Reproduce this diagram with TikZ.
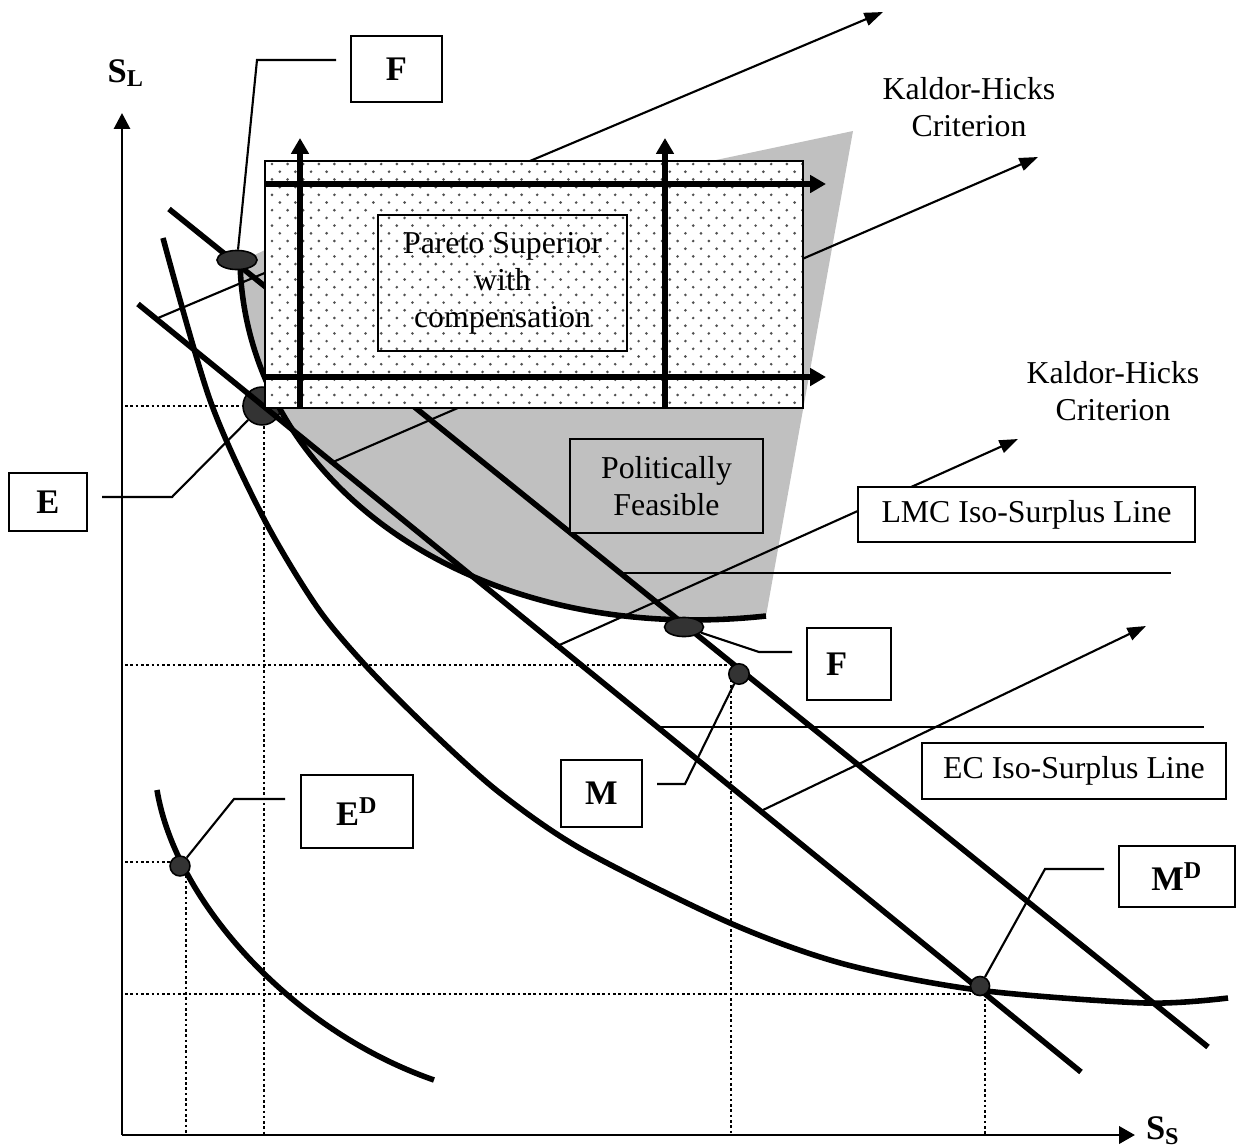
\documentclass[tikz,border=0pt]{standalone}
\usepackage{fontspec}
\setmainfont{Liberation Serif}
\usetikzlibrary{arrows.meta,shapes.geometric}
\definecolor{feasgray}{HTML}{C0C0C0}
\definecolor{ptgray}{HTML}{333333}
\definecolor{dotgray}{HTML}{505050}
\tikzset{
  heavy/.style={line width=2.1pt},
  slim/.style={line width=0.8pt},
  guide/.style={line width=0.7pt, dash pattern=on 1pt off 1pt},
  thintip/.style={-{Triangle[length=7pt,width=5pt]}},
  fattip/.style={-{Triangle[length=6pt,width=6.5pt]}},
  tbox/.style={draw, line width=0.8pt, fill=white, inner sep=0pt, align=center,
    font=\fontsize{12}{14}\selectfont},
  lbox/.style={draw, line width=0.8pt, fill=white, inner sep=0pt,
    font=\fontsize{13}{15}\selectfont\bfseries},
  pnt/.style={draw, line width=0.6pt, fill=ptgray, inner sep=0pt},
}
\begin{document}
\begin{tikzpicture}[x=0.377pt,y=-0.377pt]
\useasboundingbox (0,0) rectangle (1237,1146);

% politically feasible region
\fill[feasgray] (240,262) -- (265,250) -- (716,160) -- (853,131) -- (766,616)
  .. controls (470,648) and (245,480) .. (240,262);

% guide lines to the axes
\draw[guide] (125,406) -- (264,406) -- (264,1135);
\draw[guide] (125,665) -- (731,665) -- (731,1135);
\draw[guide] (125,862) -- (186,862) -- (186,1135);
\draw[guide] (125,994) -- (985,994) -- (985,1135);

% Kaldor-Hicks arrows
\coordinate (k1s) at (158,318);  \coordinate (k1e) at (883,12);
\coordinate (k2s) at (333,462);  \coordinate (k2e) at (1038,157);
\coordinate (k3s) at (555,647);  \coordinate (k3e) at (1018,439);
\coordinate (k4s) at (763,810);  \coordinate (k4e) at (1146,626);
\draw[slim, thintip] (k1s) -- (k1e);
\draw[slim, thintip] (k2s) -- (k2e);
\draw[slim, thintip] (k3s) -- (k3e);
\draw[slim, thintip] (k4s) -- (k4e);

\node[pnt, circle, minimum size=14.3pt] (ptE) at (262,406) {};

% iso-surplus lines and curves
\draw[heavy] (169,209) -- (1208,1047);
\draw[heavy] (138,304) -- (1081,1072);
\draw[heavy] (240,262) .. controls (245,480) and (470,648) .. (766,616);
\draw[heavy] plot[smooth] coordinates {(163,238) (210,400) (263,517) (317,607)
  (367,667) (433,733) (500,793) (583,850) (730,923) (844,964) (978,990)
  (1145,1003) (1228,998)};
\draw[heavy] (157,790) .. controls (175,900) and (290,1030) .. (434,1080);

% Pareto superior area
\fill[white] (265,161) rectangle (803,408);
\begin{scope}
\clip (265,161) rectangle (803,408);
\foreach \j in {0,...,32}{
  \foreach \i in {0,...,35}{
    \fill[dotgray] ({272+mod(\j,2)*7.8+\i*15.6},{164+\j*7.7}) circle (0.55pt);
  }
}
\end{scope}
\draw[slim] (265,161) rectangle (803,408);
\draw[heavy, fattip] (265,184) -- (826,184);
\draw[heavy, fattip] (265,377) -- (826,377);
\draw[heavy, fattip] (300,408) -- (300,138);
\draw[heavy, fattip] (665,408) -- (665,138);

\node[tbox, fill=none, minimum width=93.9pt, minimum height=51.3pt] (pareto)
  at (502.5,283) {Pareto Superior\\with\\compensation};
\node[tbox, fill=feasgray, minimum width=72.8pt, minimum height=35.4pt] (polfeas)
  at (666.5,486) {Politically\\Feasible};

\draw[slim] (623,573) -- (1171,573);
\draw[slim] (661,727) -- (1204,727);

\node[tbox, minimum width=127pt, minimum height=20.7pt] (lmc) at (1026.5,514.5)
  {LMC Iso-Surplus Line};
\node[tbox, minimum width=114.6pt, minimum height=21.1pt] (ec) at (1074,771)
  {EC Iso-Surplus Line};
\node[align=center, font=\fontsize{12}{14}\selectfont] (khA) at (969,107)
  {Kaldor-Hicks\\Criterion};
\node[align=center, font=\fontsize{12}{14}\selectfont] (khB) at (1113,391)
  {Kaldor-Hicks\\Criterion};

% labelled points
\node[pnt, ellipse, minimum width=15.1pt, minimum height=7.2pt] (ptF) at (237,260) {};
\node[pnt, ellipse, minimum width=14.7pt, minimum height=7.2pt] (ptF2) at (684,627) {};
\node[pnt, circle, minimum size=7.7pt] (ptM) at (739,674) {};
\node[pnt, circle, minimum size=7.5pt] (ptED) at (180,866) {};
\node[pnt, circle, minimum size=7.2pt] (ptMD) at (980,986) {};

\node[lbox, minimum width=34.3pt, minimum height=24.9pt] (boxF) at (396.5,69) {F};
\node[lbox, minimum width=29.4pt, minimum height=21.9pt] (boxE) at (48,502) {E};
\node[lbox, minimum width=42.2pt, minimum height=27.5pt] (boxED) at (357,811.5)
  {E\textsuperscript{D}};
\node[lbox, minimum width=30.5pt, minimum height=25.3pt] (boxM) at (601.5,793.5) {M};
\node[lbox, minimum height=27.1pt, inner xsep=7.2pt, text width=17.3pt, align=left]
  (boxF2) at (849,664) {F};
\node[lbox, minimum width=43.7pt, minimum height=23pt] (boxMD) at (1177,876.5)
  {M\textsuperscript{D}};

\coordinate (cF) at (336,60);
\coordinate (cE) at (102,497);
\coordinate (cED) at (285,799);
\coordinate (cM) at (657,784);
\coordinate (cF2) at (792,652);
\coordinate (cMD) at (1104,869);
\draw[slim] (cF) -- (257,60) -- (ptF);
\draw[slim] (cE) -- (172,497) -- (ptE);
\draw[slim] (cED) -- (234,799) -- (ptED);
\draw[slim] (cM) -- (685,784) -- (ptM);
\draw[slim] (cF2) -- (759,652) -- (ptF2);
\draw[slim] (cMD) -- (1045,869) -- (ptMD);

% axes
\coordinate (O) at (122,1135);
\coordinate (ytip) at (122,113);
\coordinate (xtip) at (1135,1135);
\draw[line width=1.1pt, -{Triangle[length=6pt,width=6pt]}] (O) -- (ytip);
\draw[line width=1.1pt, -{Triangle[length=6pt,width=6.5pt]}] (O) -- (xtip);
\node[font=\fontsize{13}{15}\selectfont\bfseries] (labSL) at (126,73) {S\textsubscript{L}};
\node[font=\fontsize{13}{15}\selectfont\bfseries] (labSS) at (1163,1131) {S\textsubscript{S}};
\end{tikzpicture}
\end{document}
